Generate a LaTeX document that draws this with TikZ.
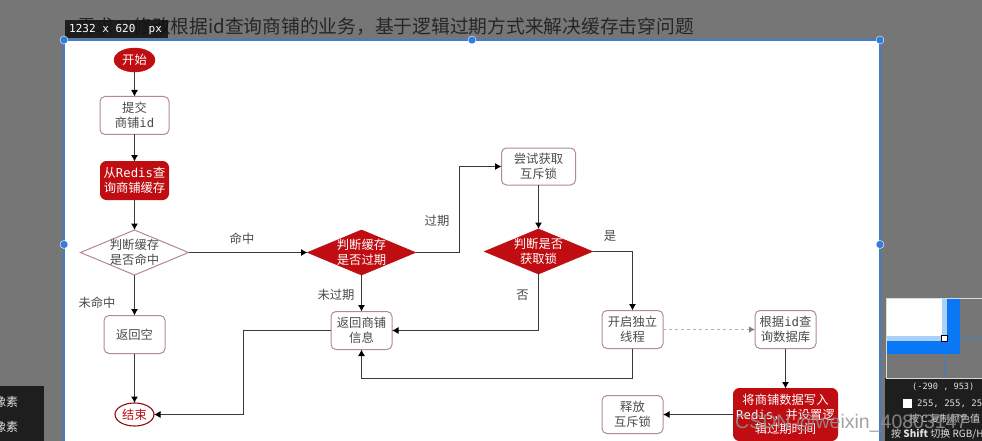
\documentclass[tikz,border=0pt]{standalone}
\usepackage{fontspec}
\setmainfont{Noto Sans CJK SC}
\newfontfamily\monof{DejaVu Sans Mono}
\newfontfamily\latinf{Liberation Sans}
\usetikzlibrary{arrows.meta,shapes.geometric}
\definecolor{pagegray}{HTML}{767676}
\definecolor{handle}{HTML}{2F7DE1}
\definecolor{frameblue}{HTML}{3F7CCB}
\definecolor{brick}{HTML}{C00D12}
\definecolor{mauve}{HTML}{B5898F}
\definecolor{ink}{HTML}{4A4A4A}
\definecolor{wire}{HTML}{3A3A3A}
\definecolor{panel}{HTML}{1E1E1E}
\definecolor{purebl}{HTML}{0A78F5}
\newcommand{\dtxt}[2]{\makebox[0pt]{\raisebox{-4.4pt}[0pt][0pt]{\begin{tabular}{@{}c@{}}#1\\#2\end{tabular}}}}
\newcommand{\lat}[1]{{\monof #1}}
\tikzset{
  base/.style={inner sep=0pt,outer sep=0pt,align=center,font=\fontsize{12.3}{14.5}\selectfont},
  whitebox/.style={base,rectangle,rounded corners=5pt,draw=mauve,line width=1pt,fill=white,text=ink},
  redbox/.style={base,rectangle,rounded corners=6pt,draw=brick,line width=1pt,fill=brick,text=white},
  whitedia/.style={base,diamond,aspect=2.4,minimum width=108pt,minimum height=45pt,draw=mauve,line width=1pt,fill=white,text=ink},
  reddia/.style={base,diamond,aspect=2.4,minimum width=108pt,minimum height=45pt,draw=brick,line width=.6pt,fill=brick,text=white},
  wirearrow/.style={draw=wire,line width=1pt,-{Latex[length=6.5pt,width=7pt,color=black]}},
  lbl/.style={font=\fontsize{12.3}{14.5}\selectfont,text=ink,inner sep=0pt},
  grip/.style={circle,fill=handle,draw=white,line width=.4pt,minimum size=8pt,inner sep=0pt},
  paneltxt/.style={text=white!88!black,inner sep=0pt,anchor=west}
}
\begin{document}
\begin{tikzpicture}[x=1pt,y=-1pt]
\clip (0,0) rectangle (982,441);
\fill[pagegray] (0,0) rectangle (982,441);
% canvas
\fill[white] (64,40) rectangle (880,441);
\draw[frameblue,line width=1.6pt] (64,441) -- (64,40) -- (880,40) -- (880,441);
% title
\node[anchor=west,inner sep=0pt,text=black!85,font=\fontsize{18.75}{20}\selectfont] (title) at (77,27) {需求：修改根据id查询商铺的业务，基于逻辑过期方式来解决缓存击穿问题};
% size tag
\fill[black!85!pagegray,fill opacity=.88] (65,20) rectangle (168,38);
\node[anchor=west,inner sep=0pt,text=white,font=\monof\fontsize{11}{12}\selectfont] (size) at (69,29.5) {1232 x 620\ \ px};
% grips
\node[grip] (g1) at (64,40) {};
\node[grip] (g2) at (472,40) {};
\node[grip] (g3) at (880,40) {};
\node[grip] (g4) at (64,244.5) {};
\node[grip] (g5) at (880,244.5) {};
% flow nodes
\node[base,ellipse,fill=brick,draw=brick,text=white,minimum width=41pt,minimum height=24pt] (start) at (134.5,60) {开始};
\node[whitebox,minimum width=69pt,minimum height=38pt] (submit) at (134.5,115.5) {提交\\商铺\lat{id}};
\node[redbox,minimum width=68pt,minimum height=38pt] (query) at (134.5,180.5) {从\lat{Redis}查\\询商铺缓存};
\node[whitedia] (hit) at (134.5,252.5) {\dtxt{判断缓存}{是否命中}};
\node[reddia] (expire) at (361.5,252.5) {\dtxt{判断缓存}{是否过期}};
\node[whitebox,minimum width=61pt,minimum height=38pt] (empty) at (134.5,334.5) {返回空};
\node[base,ellipse,fill=white,draw=brick!75!black,line width=1.1pt,text=brick,minimum width=39pt,minimum height=23pt] (finish) at (134.5,414.5) {结束};
\node[whitebox,minimum width=61pt,minimum height=38pt] (info) at (361.5,330.5) {返回商铺\\信息};
\node[whitebox,minimum width=74pt,minimum height=37pt] (lock) at (538.5,166.5) {尝试获取\\互斥锁};
\node[reddia] (got) at (538.5,251.5) {\dtxt{判断是否}{获取锁}};
\node[whitebox,minimum width=61pt,minimum height=38pt] (thread) at (632.5,329.5) {开启独立\\线程};
\node[whitebox,minimum width=61pt,minimum height=38pt] (db) at (785.5,329.5) {根据\lat{id}查\\询数据库};
\node[redbox,minimum width=104pt,minimum height=52pt] (write) at (785.5,414.5) {将商铺数据写入\\\lat{Redis}，并设置逻\\辑过期时间};
\node[whitebox,minimum width=61pt,minimum height=38pt] (release) at (632.5,414.5) {释放\\互斥锁};
% helper points
\coordinate (c1) at (243.5,372);
\coordinate (c2) at (459.5,210);
\coordinate (c3) at (500,378.5);
% connectors
\draw[wirearrow] (start) -- (submit);
\draw[wirearrow] (submit) -- (query);
\draw[wirearrow] (query) -- (hit);
\draw[wirearrow] (hit) -- (empty);
\draw[wirearrow] (empty) -- (finish);
\draw[wirearrow] (hit.east) -- (expire.west);
\draw[wirearrow] (expire) -- (info);
\draw[wirearrow] (info.west) -| (c1) |- (finish.east);
\draw[wirearrow] (expire.east) -| (c2) |- (lock.west);
\draw[wirearrow] (lock) -- (got);
\draw[wirearrow] (got.east) -| (thread.north);
\draw[wirearrow] (got.south) |- (info.east);
\draw[wirearrow] (thread.south) |- (c3) -| (info.south);
\draw[draw=gray!60,line width=1pt,dashed,-{Latex[length=6pt,width=6.5pt,color=gray]}] (thread.east) -- (db.west);
\draw[wirearrow] (db.south) -- (db.south |- write.north);
\draw[wirearrow] (write.west |- release.east) -- (release.east);
% labels
\node[lbl] (l1) at (242,238.5) {命中};
\node[lbl] (l2) at (97,303) {未命中};
\node[lbl] (l3) at (336,295) {未过期};
\node[lbl] (l4) at (437,221) {过期};
\node[lbl] (l5) at (610,236) {是};
\node[lbl] (l6) at (522.5,295) {否};
% lower-left tool panel
\fill[panel] (0,386) rectangle (44,441);
\node[paneltxt,font=\fontsize{12}{14}\selectfont] (px1) at (-6,402) {像素};
\node[paneltxt,font=\fontsize{12}{14}\selectfont] (px2) at (-6,427) {像素};
% colour picker
\fill[panel] (885,378) rectangle (982,441);
\draw[white!85!black,line width=.8pt] (982,298) -- (886,298) -- (886,378) -- (982,378);
\fill[purebl] (887,341) rectangle (960,354);
\fill[purebl] (947,299) rectangle (960,354);
\fill[white] (887,299) rectangle (942,336);
\fill[purebl!35!white] (887,336) rectangle (946,341);
\fill[purebl!35!white] (942,299) rectangle (947,341);
\fill[frameblue] (943.5,354) rectangle (945,378);
\fill[frameblue] (960,337.5) rectangle (982,339);
\draw[black,fill=white,line width=.7pt] (941,335) rectangle (947,341);
\node[paneltxt,font=\monof\fontsize{8.6}{11}\selectfont] (pos) at (912,387) {(-290 , 953)};
\fill[white] (903,399) rectangle (912,408);
\node[paneltxt,font=\monof\fontsize{9}{11}\selectfont] (rgb) at (917,404) {255, 255, 255};
\node[paneltxt,font=\fontsize{10}{11}\selectfont] (copy) at (909,419) {按 C 复制颜色值};
\node[paneltxt,font=\fontsize{10}{11}\selectfont] (shift) at (891,434.5) {按 \textbf{Shift} 切换 RGB/HEX};
% watermark
\node[anchor=west,inner sep=0pt,text=gray!85,opacity=.85,font=\latinf\fontsize{19.5}{21}\selectfont] (mark) at (735,423) {CSDN @weixin\_40803147};
\end{tikzpicture}
\end{document}
